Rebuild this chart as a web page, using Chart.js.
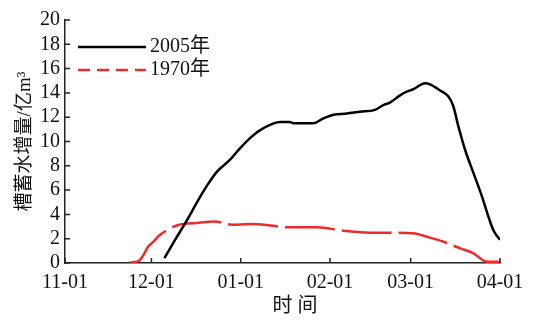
<!DOCTYPE html>
<html>
<head>
<meta charset="utf-8">
<script src="https://cdn.jsdelivr.net/npm/chart.js@4/dist/chart.umd.min.js"></script>
<style>
  body { margin: 0; background: #fff; }
</style>
</head>
<body>
<canvas id="storageChart" width="536" height="321"></canvas>
<script>
// days counted from 11-01
const tickDays = [0, 30, 61, 92, 120, 151];
const tickLabels = ['11-01', '12-01', '01-01', '02-01', '03-01', '04-01'];

const days2005 = [34.5, 38.2, 42.3, 46.3, 49.8, 52.7, 57.3, 60.8, 64.8, 68.9, 74.7, 78, 79.3, 86.2, 89.7, 93.2, 97.8, 102.4, 107.6, 110.5, 112.8, 116.3, 118.6, 120.9, 125, 126.7, 130.2, 133.1, 134.8, 136.6, 138.9, 141.8, 144.7, 147, 148.7, 151];
const values2005 = [0.4, 1.9, 3.5, 5.2, 6.55, 7.5, 8.5, 9.45, 10.4, 11.1, 11.6, 11.6, 11.5, 11.5, 11.9, 12.2, 12.3, 12.45, 12.6, 13.0, 13.2, 13.8, 14.1, 14.3, 14.8, 14.7, 14.2, 13.7, 12.9, 11.2, 9.3, 7.4, 5.5, 3.8, 2.7, 1.9];

const days1970 = [22.6, 25.5, 27.2, 28.9, 30.7, 32.4, 36.5, 39.3, 45.7, 52, 57.9, 64, 70, 77, 87.4, 96.6, 105.9, 112.8, 121, 125.6, 131.4, 137.2, 141.8, 145.8, 148.2, 151];
const values1970 = [0.05, 0.15, 0.65, 1.35, 1.75, 2.2, 2.85, 3.13, 3.3, 3.42, 3.15, 3.2, 3.13, 2.94, 2.94, 2.66, 2.5, 2.5, 2.45, 2.16, 1.75, 1.2, 0.8, 0.15, 0.1, 0.1];

const seriesNames = ['2005年', '1970年'];

function toPoints(xs, ys) {
    return xs.map((x, i) => ({ x: x, y: ys[i] }));
}

const serif = '"Liberation Serif", "Noto Sans CJK SC", serif';
Chart.defaults.font.family = serif;
Chart.defaults.color = '#111';

// inner tick marks, legend inside the plot and x title
const overlay = {
    id: 'overlay',
    afterDraw(chart) {
        const ctx = chart.ctx;
        const xs = chart.scales.x, ys = chart.scales.y;
        ctx.save();
        ctx.strokeStyle = '#222';
        ctx.lineWidth = 1.5;
        ctx.beginPath();
        ys.ticks.forEach((t, i) => {
            const py = ys.getPixelForTick(i);
            ctx.moveTo(xs.left, py);
            ctx.lineTo(xs.left + 5, py);
        });
        xs.ticks.forEach((t, i) => {
            const px = xs.getPixelForTick(i);
            ctx.moveTo(px, ys.bottom);
            ctx.lineTo(px, ys.bottom - 5);
        });
        ctx.stroke();

        ctx.font = '20px ' + serif;
        ctx.textBaseline = 'middle';
        ctx.fillStyle = '#111';
        chart.data.datasets.forEach((ds, i) => {
            const ly = 47 + i * 23;
            ctx.strokeStyle = ds.borderColor;
            ctx.lineWidth = ds.borderWidth;
            ctx.setLineDash(i === 1 ? [12, 7] : []);
            ctx.beginPath();
            ctx.moveTo(78, ly);
            ctx.lineTo(146, ly);
            ctx.stroke();
            ctx.fillText(ds.label, 150, ly);
        });
        ctx.setLineDash([]);
        ctx.textAlign = 'center';
        ctx.fillText('时 间', 295, 307);
        ctx.restore();
    }
};

document.addEventListener('DOMContentLoaded', function() {
    const ctx = document.getElementById('storageChart').getContext('2d');
    const storageChart = new Chart(ctx, {
        type: 'line',
        data: {
            datasets: [{
                label: seriesNames[0],
                data: toPoints(days2005, values2005),
                borderColor: '#000',
                borderWidth: 2.5,
                pointRadius: 0,
                cubicInterpolationMode: 'monotone'
            }, {
                label: seriesNames[1],
                data: toPoints(days1970, values1970),
                borderColor: '#ee2a2a',
                borderWidth: 2.5,
                borderDash: [50, 7],
                pointRadius: 0,
                cubicInterpolationMode: 'monotone'
            }]
        },
        options: {
            responsive: false,
            animation: false,
            events: [],
            layout: { padding: { top: 20, right: 36, left: 0, bottom: 0 } },
            plugins: {
                legend: { display: false },
                tooltip: { enabled: false }
            },
            scales: {
                x: {
                    type: 'linear',
                    min: 0,
                    max: 151,
                    afterBuildTicks: function(scale) {
                        scale.ticks = tickDays.map(v => ({ value: v }));
                    },
                    afterFit: function(scale) { scale.height = 58; },
                    ticks: {
                        padding: 8,
                        maxRotation: 0,
                        autoSkip: false,
                        font: { size: 20 },
                        callback: function(value) {
                            return tickLabels[tickDays.indexOf(value)];
                        }
                    },
                    grid: { display: false, drawTicks: false },
                    border: { display: true, color: '#222', width: 1.5 }
                },
                y: {
                    min: 0,
                    max: 20,
                    afterFit: function(scale) { scale.width = 65; },
                    ticks: {
                        stepSize: 2,
                        autoSkip: false,
                        padding: 5,
                        font: { size: 20 }
                    },
                    grid: { display: false, drawTicks: false },
                    border: { display: true, color: '#222', width: 1.5 },
                    title: {
                        display: true,
                        text: '槽蓄水增量/亿m³',
                        font: { size: 19 },
                        padding: { top: 14, bottom: 0 }
                    }
                }
            }
        },
        plugins: [overlay]
    });
});
</script>
</body>
</html>
